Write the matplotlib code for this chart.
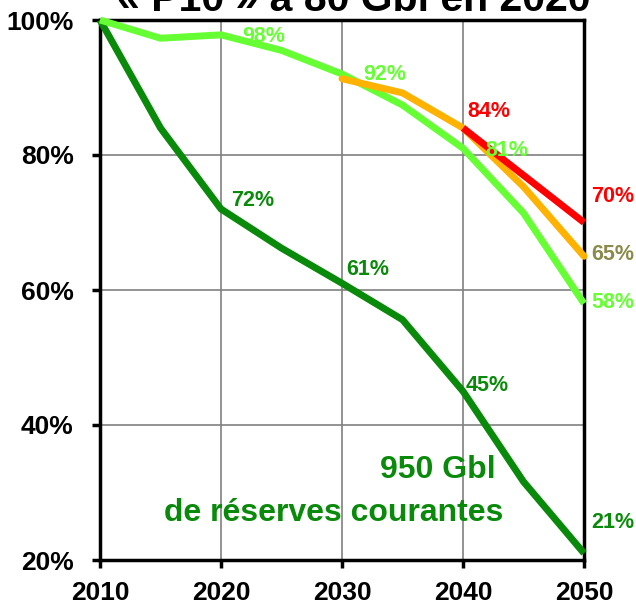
import matplotlib
matplotlib.use("Agg")
import matplotlib.pyplot as plt

years = [2010, 2015, 2020, 2025, 2030, 2035, 2040, 2045, 2050]
current = [100, 84, 72, 66.2, 61, 55.6, 45, 31.6, 21]
light = [100, 97.3, 97.8, 95.5, 92, 87.4, 81, 71.4, 58]
orange_years = [2030, 2035, 2040, 2045, 2050]
orange = [91.3, 89.2, 84, 75.3, 65]
red_years = [2040, 2045, 2050]
red = [84, 77, 70]

xticks = [2010, 2020, 2030, 2040, 2050]
yticks = [20, 40, 60, 80, 100]
ytick_labels = ["20%", "40%", "60%", "80%", "100%"]

DG = "#0a8a0a"
LG = "#66ff33"
OR = "#ffb300"
RD = "#ff0000"
OL = "#8a8a4a"

plt.rcParams['font.family'] = ['Liberation Sans', 'DejaVu Sans']

fig = plt.figure(figsize=(6.36, 6.04), dpi=100)
ax = fig.add_axes([100/636, 44/604, 484/636, 540/604])

ax.set_xlim(2010, 2050)
ax.set_ylim(20, 100)
ax.set_xticks(xticks)
ax.set_xticklabels([str(x) for x in xticks])
ax.set_yticks(yticks)
ax.set_yticklabels(ytick_labels)
ax.tick_params(axis='both', labelsize=19, width=2.5, length=6, direction='out')
ax.tick_params(axis='y', pad=13)
ax.tick_params(axis='x', pad=9)
for lab in ax.get_xticklabels() + ax.get_yticklabels():
    lab.set_fontweight('bold')
for s in ax.spines.values():
    s.set_linewidth(2.5)
    s.set_color('black')
ax.grid(True, color='#808080', lw=1.2)
ax.set_axisbelow(True)

lw = 5
ax.plot(years, current, color=DG, lw=lw, solid_capstyle='butt', clip_on=False, zorder=3)
ax.plot(years, light, color=LG, lw=lw, solid_capstyle='butt', clip_on=False, zorder=3)
ax.plot(orange_years, orange, color=OR, lw=lw, solid_capstyle='round', clip_on=False, zorder=4)
ax.plot(red_years, red, color=RD, lw=lw, solid_capstyle='butt', clip_on=False, zorder=5)

fs = 15.5
def lab(x, y, s, c, ha='center'):
    ax.text(x, y, s, color=c, fontsize=fs, fontweight='bold', ha=ha, va='center', clip_on=False, zorder=6)

lab(2023.5, 97.5, "98%", LG)
lab(2033.5, 91.9, "92%", LG)
lab(2042.1, 86.4, "84%", RD)
lab(2043.6, 80.7, "81%", LG)
lab(2050.6, 73.8, "70%", RD, 'left')
lab(2050.6, 65.3, "65%", OL, 'left')
lab(2050.6, 58.1, "58%", LG, 'left')
lab(2022.6, 73.2, "72%", DG)
lab(2032.1, 63.0, "61%", DG)
lab(2042.0, 45.8, "45%", DG)
lab(2050.6, 25.5, "21%", DG, 'left')

ax.text(2037.9, 33.3, "950 Gbl", color=DG, fontsize=23, fontweight='bold', ha='center', va='center')
ax.text(2029.3, 27.0, "de réserves courantes", color=DG, fontsize=23, fontweight='bold', ha='center', va='center')

fig.text(354/636, 1 - 11/604, "« P10 » à 80 Gbl en 2020", fontsize=29.5, fontweight='bold',
         ha='center', va='baseline', color='black')

fig.savefig("out.png", dpi=100, facecolor='white')
